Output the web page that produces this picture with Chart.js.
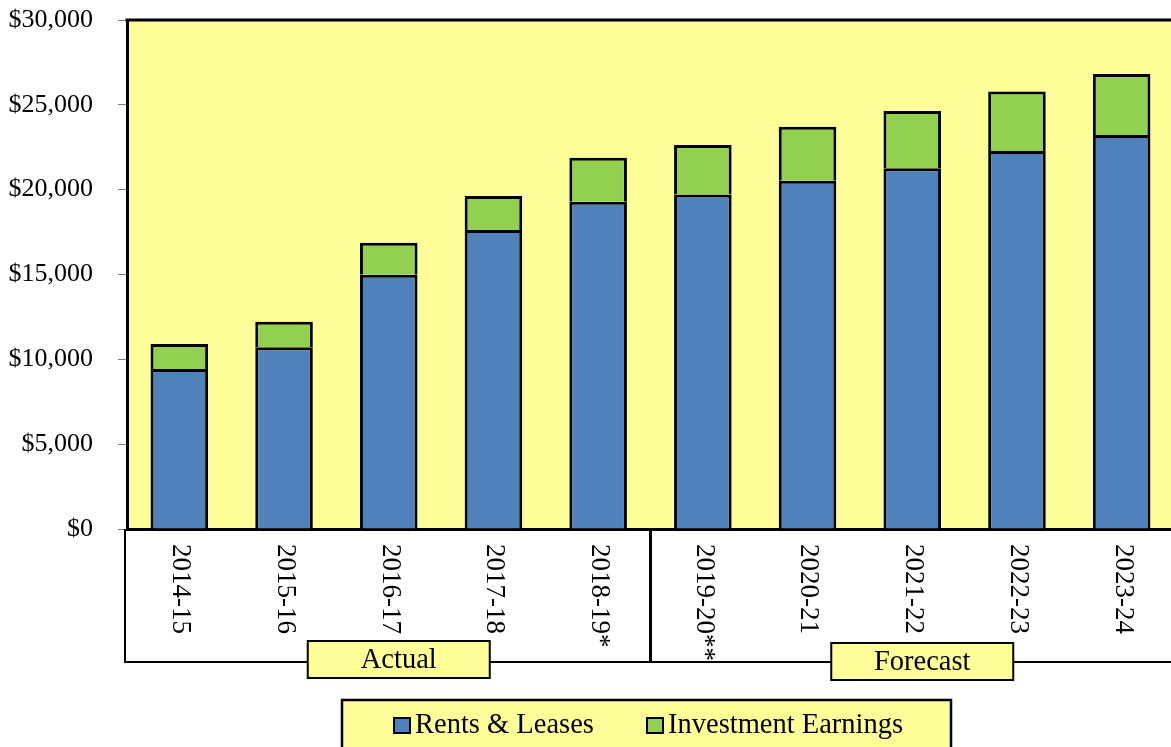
<!DOCTYPE html>
<html>
<head>
<meta charset="utf-8">
<script src="https://cdn.jsdelivr.net/npm/chart.js@4/dist/chart.umd.min.js"></script>
<style>
  html, body { margin: 0; padding: 0; background: #ffffff; overflow: hidden; }
  #wrap { width: 1174px; height: 747px; }
</style>
</head>
<body>
<div id="wrap"><canvas id="myChart"></canvas></div>
<script>
// data
const categories = ['2014-15', '2015-16', '2016-17', '2017-18', '2018-19*',
  '2019-20**', '2020-21', '2021-22', '2022-23', '2023-24'];
const rentsLeases = [9430, 10710, 14990, 17620, 19290, 19720, 20530, 21260, 22280, 23220];
const investmentEarnings = [1470, 1510, 1880, 2000, 2590, 2910, 3180, 3380, 3500, 3600];
const periodNames = ['Actual', 'Forecast'];
const actualCount = 5; // first five years are actuals
const yMax = 30000;
const yStep = 5000;

const FONT = "'Liberation Serif', 'Times New Roman', serif";
const PLOT_BG = '#FFFF99';

// yellow plot background + top border line
const plotBackground = {
  id: 'plotBackground',
  beforeDraw: (chart) => {
    const { ctx, chartArea } = chart;
    ctx.save();
    ctx.fillStyle = PLOT_BG;
    ctx.fillRect(chartArea.left, chartArea.top, chartArea.right - chartArea.left, chartArea.bottom - chartArea.top);
    ctx.restore();
  },
  afterDraw: (chart) => {
    const { ctx, chartArea } = chart;
    ctx.save();
    ctx.strokeStyle = '#000';
    ctx.lineWidth = 3;
    ctx.beginPath();
    ctx.moveTo(chartArea.left - 1.5, chartArea.top);
    ctx.lineTo(chart.width, chartArea.top);
    ctx.stroke();
    ctx.restore();
  }
};

// vertical category labels, actual/forecast box and the legend panel
const categoryPanel = {
  id: 'categoryPanel',
  afterDraw: (chart) => {
    const { ctx, chartArea } = chart;
    const x = chart.scales.x;
    const top = chartArea.bottom;
    const boxBottom = top + 133;
    ctx.save();

    // frame round the category labels
    ctx.strokeStyle = '#000';
    ctx.lineWidth = 2;
    ctx.beginPath();
    ctx.moveTo(chartArea.left - 2, top);
    ctx.lineTo(chartArea.left - 2, boxBottom);
    ctx.lineTo(chart.width, boxBottom);
    ctx.stroke();

    const split = (x.getPixelForValue(actualCount - 1) + x.getPixelForValue(actualCount)) / 2;
    ctx.lineWidth = 3;
    ctx.beginPath();
    ctx.moveTo(split, top);
    ctx.lineTo(split, boxBottom);
    ctx.stroke();

    // labels read top to bottom
    ctx.fillStyle = '#000';
    ctx.font = '27px ' + FONT;
    ctx.textAlign = 'left';
    ctx.textBaseline = 'middle';
    categories.forEach((label, i) => {
      ctx.save();
      ctx.translate(x.getPixelForValue(i) + 1, top + 15);
      ctx.rotate(Math.PI / 2);
      ctx.fillText(label, 0, 0);
      ctx.restore();
    });

    // period boxes
    const groups = [
      [chartArea.left, split],
      [split, x.getPixelForValue(categories.length - 1) + (x.getPixelForValue(1) - x.getPixelForValue(0)) / 2]
    ];
    ctx.font = '28.5px ' + FONT;
    ctx.textAlign = 'center';
    groups.forEach((g, i) => {
      const cx = (g[0] + g[1]) / 2 + 10;
      const by = i === 0 ? boxBottom - 21 : boxBottom - 19;
      ctx.fillStyle = PLOT_BG;
      ctx.fillRect(cx - 91, by, 182, 37);
      ctx.lineWidth = 2;
      ctx.strokeStyle = '#000';
      ctx.strokeRect(cx - 91, by, 182, 37);
      ctx.fillStyle = '#000';
      ctx.fillText(periodNames[i], cx, by + 20);
    });

    // legend panel
    ctx.fillStyle = PLOT_BG;
    ctx.fillRect(342, 700, 609, 60);
    ctx.lineWidth = 2.5;
    ctx.strokeRect(342, 700, 609, 60);
    ctx.font = '28.5px ' + FONT;
    ctx.textAlign = 'left';
    ctx.textBaseline = 'alphabetic';
    const itemX = [394, 647];
    chart.data.datasets.forEach((ds, i) => {
      ctx.fillStyle = ds.backgroundColor;
      ctx.fillRect(itemX[i], 718, 16, 15);
      ctx.lineWidth = 2;
      ctx.strokeStyle = '#000';
      ctx.strokeRect(itemX[i], 718, 16, 15);
      ctx.fillStyle = '#000';
      ctx.fillText(ds.label, itemX[i] + 21, 733);
    });
    ctx.restore();
  }
};

const config = {
  type: 'bar',
  data: {
    labels: categories,
    datasets: [
      {
        label: 'Rents & Leases',
        data: rentsLeases,
        backgroundColor: '#4F81BD',
        borderColor: '#000',
        borderWidth: 3,
        categoryPercentage: 1,
        barPercentage: 0.55
      },
      {
        label: 'Investment Earnings',
        data: investmentEarnings,
        backgroundColor: '#92D050',
        borderColor: '#000',
        borderWidth: 3,
        categoryPercentage: 1,
        barPercentage: 0.55
      }
    ]
  },
  options: {
    responsive: true,
    maintainAspectRatio: false,
    animation: false,
    layout: { padding: { top: 0, left: 0, right: 0, bottom: 0 } },
    plugins: {
      legend: { display: false },
      tooltip: { enabled: false }
    },
    scales: {
      x: {
        stacked: true,
        grid: { display: false },
        border: { display: true, color: '#000', width: 3 },
        ticks: { display: false },
        afterFit: (scale) => { scale.height = 218; }
      },
      y: {
        stacked: true,
        min: 0,
        max: yMax,
        grid: { drawOnChartArea: false, drawTicks: true, tickLength: 9, color: '#808080' },
        border: { display: true, color: '#000', width: 3 },
        ticks: {
          stepSize: yStep,
          padding: 25,
          color: '#000',
          font: { family: FONT, size: 26 },
          callback: (v) => '$' + v.toLocaleString('en-US')
        },
        afterFit: (scale) => {
          scale.width = 127;
          scale.paddingTop = 20;
          scale.paddingBottom = 0;
        }
      }
    }
  },
  plugins: [plotBackground, categoryPanel]
};

let chart;
function createChart() {
  const ctx = document.getElementById('myChart').getContext('2d');
  if (chart) {
    chart.destroy();
  }
  chart = new Chart(ctx, config);
}
window.onload = createChart;
</script>
</body>
</html>
